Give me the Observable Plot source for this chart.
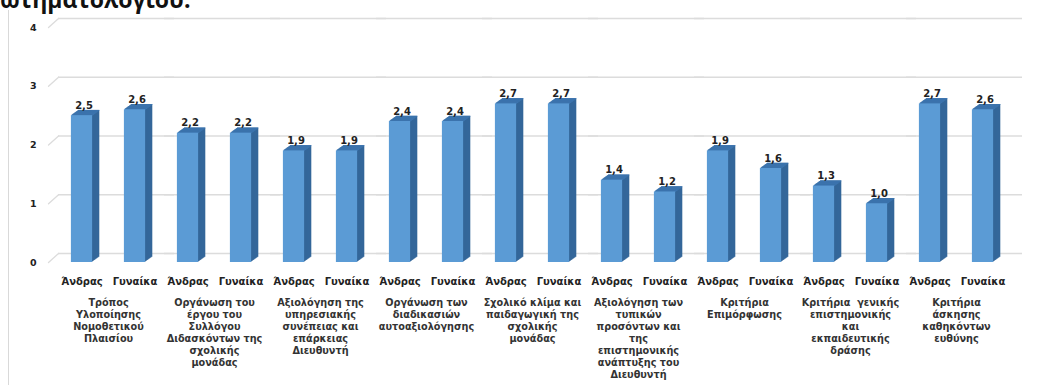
<!DOCTYPE html>
<html><head><meta charset="utf-8">
<script src="https://cdn.jsdelivr.net/npm/d3@7"></script>
<script src="https://cdn.jsdelivr.net/npm/@observablehq/plot@0.6"></script>
<style>
body{margin:0;background:#fff;width:1039px;height:385px;overflow:hidden;position:relative;font-family:"DejaVu Sans",sans-serif;}
#cap{position:absolute;left:0;top:-12px;font:bold 23px "Open Sans",sans-serif;color:#111;line-height:23px;white-space:nowrap;}
#border{position:absolute;left:8px;top:10px;width:1px;height:380px;background:#d9d9d9;}
#chart{position:absolute;left:0;top:0;}
</style></head><body>
<div id="cap">ωτηματολογίου.</div>
<div id="border"></div>
<div id="chart"></div>
<script>
const categories = [
  "Τρόπος\nΥλοποίησης\nΝομοθετικού\nΠλαισίου",
  "Οργάνωση του\nέργου του\nΣυλλόγου\nΔιδασκόντων της\nσχολικής\nμονάδας",
  "Αξιολόγηση της\nυπηρεσιακής\nσυνέπειας και\nεπάρκειας\nΔιευθυντή",
  "Οργάνωση των\nδιαδικασιών\nαυτοαξιολόγησης",
  "Σχολικό κλίμα και\nπαιδαγωγική της\nσχολικής\nμονάδας",
  "Αξιολόγηση των\nτυπικών\nπροσόντων και\nτης\nεπιστημονικής\nανάπτυξης του\nΔιευθυντή",
  "Κριτήρια\nΕπιμόρφωσης",
  "Κριτήρια  γενικής\nεπιστημονικής\nκαι\nεκπαιδευτικής\nδράσης",
  "Κριτήρια\nάσκησης\nκαθηκόντων\nευθύνης"
];
const genders = ["Άνδρας", "Γυναίκα"];
const men   = [2.5, 2.2, 1.9, 2.4, 2.7, 1.4, 1.9, 1.3, 2.7];
const women = [2.6, 2.2, 1.9, 2.4, 2.7, 1.2, 1.6, 1.0, 2.6];
const yTicks = [0, 1, 2, 3, 4];

const data = categories.flatMap((c, i) => [
  {category: c, gender: genders[0], value: men[i]},
  {category: c, gender: genders[1], value: women[i]}
]);

const FRONT = "#5b9bd5", SIDE = "#34679a", TOP = "#3f78b4", GRID = "#dcdcdc";
const fmt = v => d3.format(".1f")(v).replace(".", ",");

const N = 8, DX = 7.2, DY = 5.2;
const body = [];
for (let k = N; k >= 1; k--) {
  const dx = DX * k / N, dy = -DY * k / N;
  body.push(Plot.rectY(data, {fx: "category", x: "gender", y: "value", dx, dy, fill: SIDE}));
  body.push(Plot.rectY(data, {fx: "category", x: "gender", y1: "value", y2: "value", insetBottom: -(DY / N) - 0.3, dx, dy, fill: TOP}));
}

const chart = Plot.plot({
  width: 1039, height: 385,
  marginLeft: 52, marginRight: 27, marginTop: 27, marginBottom: 123,
  style: {fontFamily: "DejaVu Sans, sans-serif", fontSize: "10px", color: "#222", background: "transparent"},
  fx: {domain: categories, padding: 0, axis: null, label: null},
  x: {domain: genders, paddingInner: 0.6, paddingOuter: 0.3, align: 0.5, axis: null, label: null, round: false},
  y: {domain: [0, 4], axis: null},
  marks: [
    Plot.ruleY(yTicks, {y: d => d, dy: -9, dx: 3, insetRight: -10, stroke: GRID, strokeWidth: 1.3}),
    Plot.vector(yTicks, {y: d => d, fx: () => categories[0], frameAnchor: "left", dx: -7, length: 13.5, rotate: 48, anchor: "start",
      shape: {draw(ctx, l) { ctx.moveTo(0, 0); ctx.lineTo(0, -l); }}, stroke: GRID, strokeWidth: 1.3}),
    Plot.axisY(yTicks, {anchor: "left", tickSize: 0, tickPadding: 19, tickFormat: d => d, fontWeight: "bold", fontSize: 9.5, label: null}),
    ...body,
    Plot.rectY(data, {fx: "category", x: "gender", y: "value", fill: FRONT}),
    Plot.text(data, {fx: "category", x: "gender", y: "value", text: d => fmt(d.value), dy: -7, dx: 2, lineAnchor: "bottom", fontSize: 10, fontWeight: "bold", fill: "#222"}),
    Plot.axisX({anchor: "bottom", tickSize: 0, tickPadding: 15, fontWeight: "bold", fontSize: 10, label: null}),
    Plot.text(categories, {fx: d => d, text: d => d, frameAnchor: "bottom", lineAnchor: "top", dy: 35, lineHeight: 1.23, fontSize: 9.7, fontWeight: "bold", fill: "#333"})
  ]
});
document.getElementById("chart").appendChild(chart);
</script>
</body></html>
